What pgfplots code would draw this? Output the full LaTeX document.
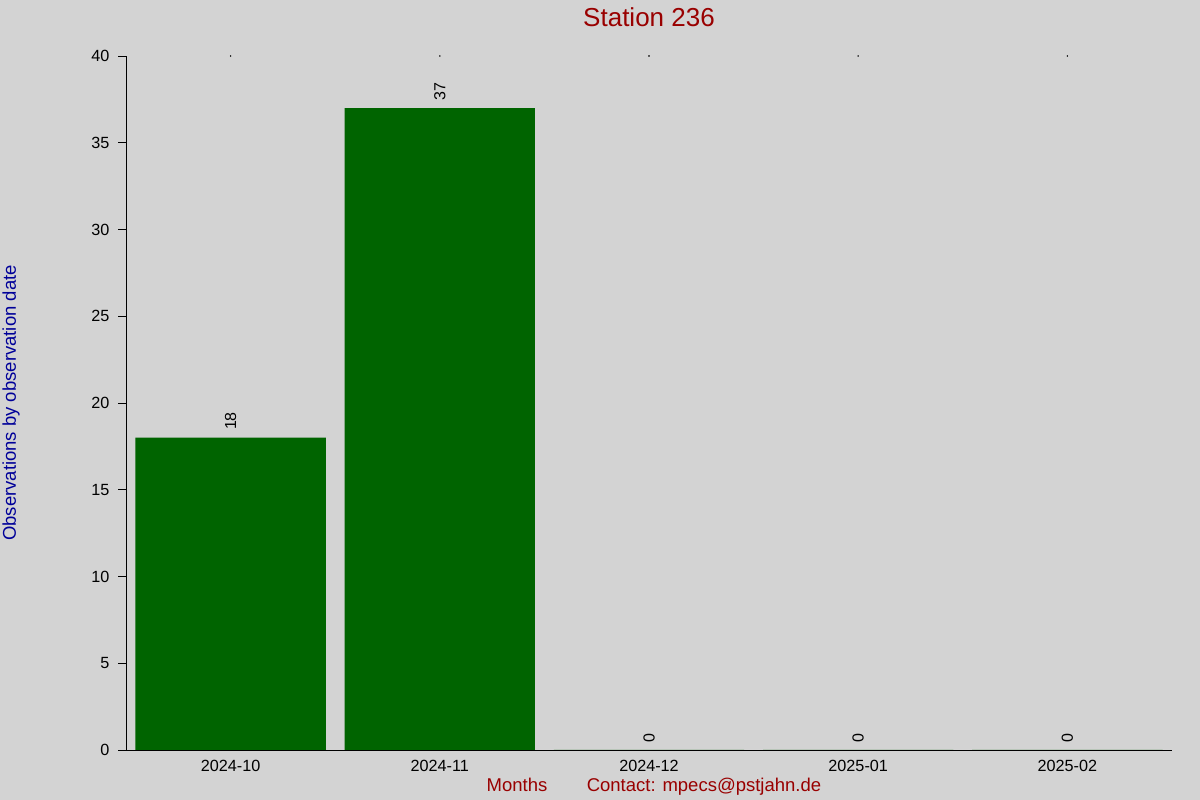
\documentclass[border=0pt]{standalone}
\usepackage{pgfplots}
\pgfplotsset{compat=1.18}
\usepackage{fontspec}
\setmainfont{Liberation Sans}
\definecolor{bgray}{HTML}{D3D3D3}
\definecolor{bgreen}{HTML}{006400}
\definecolor{dred}{HTML}{990000}
\definecolor{dblue}{HTML}{000099}

\begin{document}
\begin{tikzpicture}[x=1pt,y=1pt]
  \fill[bgray] (0,0) rectangle (1200,800);
  \useasboundingbox (0,0) rectangle (1200,800);

  \begin{axis}[
      at={(126pt,50pt)}, anchor=south west,
      scale only axis,
      width=1046pt, height=694pt,
      xmin=-0.5, xmax=4.5,
      ymin=0, ymax=40,
      axis lines*=left,
      axis line style={black, line width=0.8pt},
      xtick={0,1,2,3,4},
      xticklabels={2024-10,2024-11,2024-12,2025-01,2025-02},
      ytick={0,5,...,40},
      x tick style={draw=none},
      y tick style={black, line width=0.8pt},
      tick align=outside,
      major tick length=8pt,
      ticklabel style={font=\fontsize{16.2}{18}\selectfont},
      /pgf/number format/assume math mode=true,
      xticklabel style={yshift=1pt},
      yticklabel style={xshift=-5pt},
      ybar, bar width=0.91,
      nodes near coords,
      nodes near coords style={rotate=90, anchor=west, inner xsep=7.5pt, inner ysep=0pt,
        font=\fontsize{16}{18}\selectfont, black},
      clip=false,
    ]
    \addplot[fill=bgreen, draw=none]
      coordinates {(0,18) (1,37) (2,0) (3,0) (4,0)};
    \addplot[only marks, mark=*, mark size=0.5pt, black, nodes near coords={}, forget plot]
      coordinates {(0,40) (1,40) (2,40) (3,40) (4,40)};
  \end{axis}

  \node[anchor=base, text=dred, font=\fontsize{26}{30}\selectfont] at (649,773) {Station 236};
  \node[rotate=90, text=dblue, font=\fontsize{18.5}{22}\selectfont] at (11,397) {Observations by observation date};
  \node[anchor=base, text=dred, font=\fontsize{18.5}{22}\selectfont] at (517,8) {Months};
  \node[anchor=base, text=dred, font=\fontsize{18.5}{22}\selectfont] at (704,8) {Contact: mpecs@pstjahn.de};
\end{tikzpicture}
\end{document}
